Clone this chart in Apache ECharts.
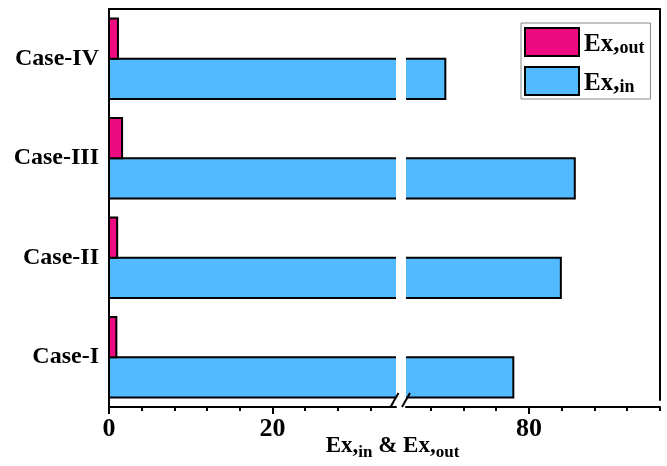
<!DOCTYPE html>
<html><head><meta charset="utf-8">
<script src="https://cdn.jsdelivr.net/npm/echarts@6/dist/echarts.min.js"></script>
<style>html,body{margin:0;padding:0;background:#fff}#c{width:667px;height:466px}</style>
</head><body><div id="c"></div>
<script>
// ---- data ----
const cases = ['Case-I', 'Case-II', 'Case-III', 'Case-IV'];
const exIn = [78.1, 83.9, 85.6, 69.8];
const exOut = [0.9, 1.0, 1.6, 1.1];
const seriesNames = ['Ex,in', 'Ex,out'];
const leftTicks = [0, 4, 8, 12, 16, 20, 24, 28, 32];
const leftLabels = [0, 20];
const rightTicks = [68, 72, 76, 80, 84, 88, 92, 96];
const rightLabels = [80];
const leftRange = [0, 35.13];
const rightRange = [65, 96];

// ---- style ----
const FONT = 'Liberation Serif';
const BLUE = '#52BAFE';
const MAGENTA = '#EE0A80';
const AX = { show: true, onZero: false, lineStyle: { color: '#000', width: 2 } };

function barItem(pos) {
  return function (params, api) {
    const v = api.value(0), c = api.value(1);
    const p0 = api.coord([0, c]);
    const p1 = api.coord([v, c]);
    const band = api.size([0, 1])[1];
    const h = band * 0.405;
    const y = pos === 'top' ? p0[1] - h : p0[1];
    return {
      type: 'rect',
      shape: { x: p0[0], y: y, width: p1[0] - p0[0], height: h },
      style: { fill: api.visual('color'), stroke: '#000', lineWidth: 2 }
    };
  };
}

const inData = exIn.map((v, i) => [v, i]);
const outData = exOut.map((v, i) => [v, i]);

const chart = echarts.init(document.getElementById('c'), null, { renderer: 'canvas' });
const labelStyle = { color: '#000', fontFamily: FONT, fontWeight: 'bold', fontSize: 26, margin: 9 };

chart.setOption({
  animation: false,
  backgroundColor: '#fff',
  grid: [
    { left: 109, top: 9, width: 287, height: 398 },
    { left: 406, top: 9, width: 254, height: 398 },
    { left: 109, top: 9, width: 551, height: 398 }
  ],
  xAxis: [
    { gridIndex: 0, type: 'value', min: leftRange[0], max: leftRange[1], interval: 4, position: 'bottom',
      axisLine: AX, splitLine: { show: false },
      axisTick: { show: true, customValues: leftTicks, length: 4, lineStyle: { color: '#000', width: 2 } },
      axisLabel: Object.assign({ customValues: leftLabels }, labelStyle) },
    { gridIndex: 0, type: 'value', min: leftRange[0], max: leftRange[1], position: 'bottom',
      axisLine: { show: false }, splitLine: { show: false }, axisLabel: { show: false },
      axisTick: { show: true, customValues: leftLabels, length: 7, lineStyle: { color: '#000', width: 2 } } },
    { gridIndex: 1, type: 'value', min: rightRange[0], max: rightRange[1], position: 'bottom',
      axisLine: AX, splitLine: { show: false },
      axisTick: { show: true, customValues: rightTicks, length: 4, lineStyle: { color: '#000', width: 2 } },
      axisLabel: Object.assign({ customValues: rightLabels }, labelStyle) },
    { gridIndex: 1, type: 'value', min: rightRange[0], max: rightRange[1], position: 'bottom',
      axisLine: { show: false }, splitLine: { show: false }, axisLabel: { show: false },
      axisTick: { show: true, customValues: rightLabels, length: 7, lineStyle: { color: '#000', width: 2 } } },
    { gridIndex: 2, type: 'value', min: 0, max: 1, position: 'top',
      axisLine: AX, axisTick: { show: false }, axisLabel: { show: false }, splitLine: { show: false } },
    { gridIndex: 2, type: 'value', min: 0, max: 1, position: 'bottom',
      axisLine: { show: false }, axisTick: { show: false }, axisLabel: { show: false }, splitLine: { show: false },
      name: '{m|Ex,}{s|in}{m| & Ex,}{s|out}', nameLocation: 'middle', nameGap: 35,
      nameTextStyle: { padding: [0, 0, 0, 16],
        rich: {
          m: { fontFamily: FONT, fontWeight: 'bold', fontSize: 23, color: '#000', lineHeight: 26, verticalAlign: 'top' },
          s: { fontFamily: FONT, fontWeight: 'bold', fontSize: 17, color: '#000', lineHeight: 14, verticalAlign: 'bottom' }
        } } }
  ],
  yAxis: [
    { gridIndex: 0, type: 'category', data: cases, axisLine: AX, axisTick: { show: false },
      axisLabel: { color: '#000', fontFamily: FONT, fontWeight: 'bold', fontSize: 24, margin: 10 } },
    { gridIndex: 1, type: 'category', data: cases, show: false },
    { gridIndex: 2, type: 'value', min: 0, max: 1, position: 'right',
      axisLine: AX, axisTick: { show: false }, axisLabel: { show: false }, splitLine: { show: false } }
  ],
  legend: {
    data: ['Ex,out', 'Ex,in'],
    orient: 'vertical', left: 521, top: 23,
    padding: [3, 6, 3, 3], itemGap: 8, itemWidth: 54, itemHeight: 28, itemTextGap: 6,
    icon: 'rect', borderColor: '#888', borderWidth: 1,
    itemStyle: { borderColor: '#000', borderWidth: 2 },
    formatter: function (name) {
      const p = name.split(',');
      return '{m|' + p[0] + ',}{s|' + p[1] + '}';
    },
    textStyle: {
      rich: {
        m: { fontFamily: FONT, fontWeight: 'bold', fontSize: 25, color: '#000', lineHeight: 30, padding: [6, 0, 0, 0], verticalAlign: 'bottom' },
        s: { fontFamily: FONT, fontWeight: 'bold', fontSize: 18, color: '#000', lineHeight: 14, verticalAlign: 'bottom' }
      }
    }
  },
  series: [
    { name: seriesNames[0], type: 'custom', xAxisIndex: 0, yAxisIndex: 0, clip: true,
      itemStyle: { color: BLUE, borderColor: '#000', borderWidth: 2 },
      encode: { x: 0, y: 1 }, renderItem: barItem('bottom'), data: inData },
    { name: seriesNames[1], type: 'custom', xAxisIndex: 0, yAxisIndex: 0, clip: true,
      itemStyle: { color: MAGENTA, borderColor: '#000', borderWidth: 2 },
      encode: { x: 0, y: 1 }, renderItem: barItem('top'), data: outData },
    { name: seriesNames[0], type: 'custom', xAxisIndex: 2, yAxisIndex: 1, clip: true,
      itemStyle: { color: BLUE, borderColor: '#000', borderWidth: 2 },
      encode: { x: 0, y: 1 }, renderItem: barItem('bottom'), data: inData }
  ]
});

// axis-break marks, placed from the axes' own pixel conversion
const xl = chart.convertToPixel({ xAxisIndex: 0 }, leftRange[1]);
const xr = chart.convertToPixel({ xAxisIndex: 2 }, rightRange[0]);
const yb = chart.convertToPixel({ yAxisIndex: 2 }, 0);
function slash(x) {
  return { type: 'line', shape: { x1: x - 4, y1: yb + 7, x2: x + 4, y2: yb - 7 },
    style: { stroke: '#000', lineWidth: 2 }, z: 100 };
}
chart.setOption({ graphic: [slash(xl - 1.5), slash(xr)] });
</script>
</body></html>
